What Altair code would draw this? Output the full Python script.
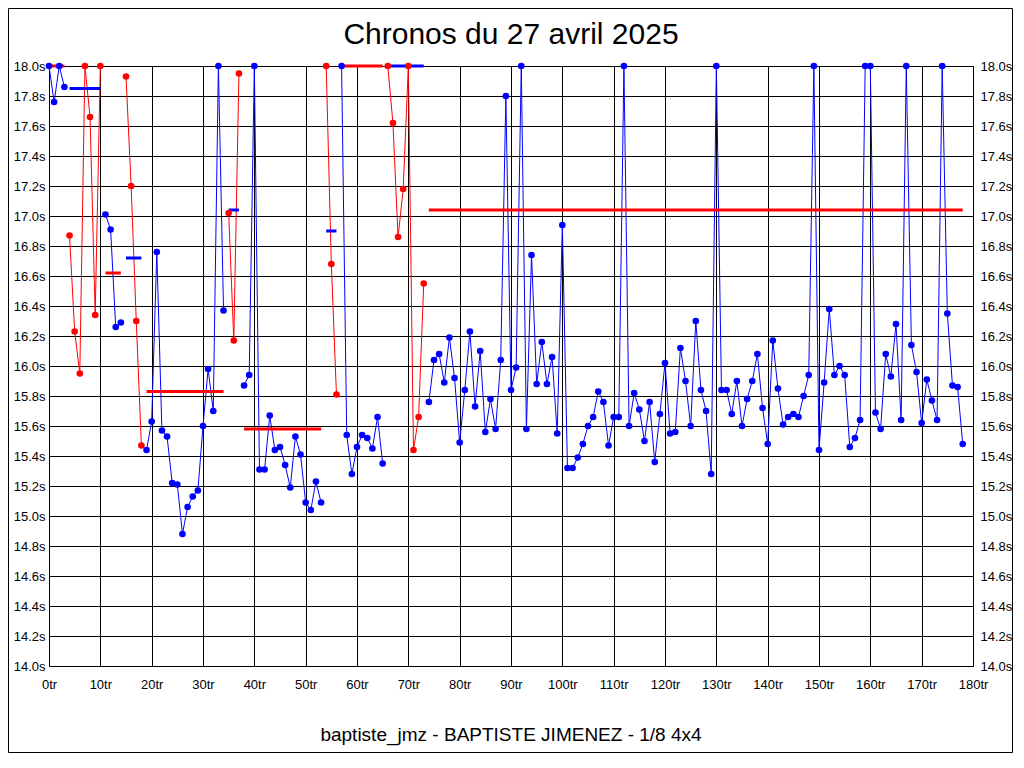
import altair as alt
import pandas as pd

# ---- data ----
laps = list(range(0, 179))
times = [
    18.0, 17.76, 18.0, 17.86, 16.87, 16.23, 15.95, 18.0, 17.66, 16.34,
    18.0, 17.01, 16.91, 16.26, 16.29, 17.93, 17.20, 16.30, 15.47, 15.44,
    15.63, 16.76, 15.57, 15.53, 15.22, 15.21, 14.88, 15.06, 15.13, 15.17,
    15.60, 15.98, 15.70, 18.0, 16.37, 17.02, 16.17, 17.95, 15.87, 15.94,
    18.0, 15.31, 15.31, 15.67, 15.44, 15.46, 15.34, 15.19, 15.53, 15.41,
    15.09, 15.04, 15.23, 15.09, 18.0, 16.68, 15.81, 18.0, 15.54, 15.28,
    15.46, 15.54, 15.52, 15.45, 15.66, 15.35, 18.0, 17.62, 16.86, 17.18,
    18.0, 15.44, 15.66, 16.55, 15.76, 16.04, 16.08, 15.89, 16.19, 15.92,
    15.49, 15.84, 16.23, 15.73, 16.10, 15.56, 15.78, 15.58, 16.04, 17.80,
    15.84, 15.99, 18.0, 15.58, 16.74, 15.88, 16.16, 15.88, 16.06, 15.55,
    16.94, 15.32, 15.32, 15.39, 15.48, 15.60, 15.66, 15.83, 15.76, 15.47,
    15.66, 15.66, 18.0, 15.60, 15.82, 15.71, 15.50, 15.76, 15.36, 15.68,
    16.02, 15.55, 15.56, 16.12, 15.90, 15.60, 16.30, 15.84, 15.70, 15.28,
    18.0, 15.84, 15.84, 15.68, 15.90, 15.60, 15.78, 15.90, 16.08, 15.72,
    15.48, 16.17, 15.85, 15.61, 15.66, 15.68, 15.66, 15.80, 15.94, 18.0,
    15.44, 15.89, 16.38, 15.94, 16.00, 15.94, 15.46, 15.52, 15.64, 18.0,
    18.0, 15.69, 15.58, 16.08, 15.93, 16.28, 15.64, 18.0, 16.14, 15.96,
    15.62, 15.91, 15.77, 15.64, 18.0, 16.35, 15.87, 15.86, 15.48,
]
# stints: first lap, last lap, colour
seg_start = [0, 4, 11, 15, 19, 35, 38, 54, 57, 66, 74]
seg_end = [3, 10, 14, 18, 34, 37, 53, 56, 65, 73, 178]
seg_color = ["bleu", "rouge", "bleu", "rouge", "bleu", "rouge", "bleu", "rouge", "bleu", "rouge", "bleu"]

# horizontal reference bars
avg_x1 = [0, 4, 11, 15, 19, 35, 38, 54, 57, 66, 74]
avg_x2 = [3, 10, 14, 18, 34, 37, 53, 56, 65, 73, 178]
avg_y = [18.0, 17.85, 16.62, 16.72, 15.83, 17.04, 15.58, 16.90, 18.0, 18.0, 17.04]
avg_color = ["rouge", "bleu", "rouge", "bleu", "rouge", "bleu", "rouge", "bleu", "rouge", "bleu", "rouge"]

x_ticks = [0, 10, 20, 30, 40, 50, 60, 70, 80, 90, 100, 110, 120, 130, 140, 150, 160, 170, 180]
y_ticks = [14.0, 14.2, 14.4, 14.6, 14.8, 15.0, 15.2, 15.4, 15.6, 15.8, 16.0,
           16.2, 16.4, 16.6, 16.8, 17.0, 17.2, 17.4, 17.6, 17.8, 18.0]

title_text = "Chronos du 27 avril 2025"
footer_text = "baptiste_jmz - BAPTISTE JIMENEZ - 1/8 4x4"

# ---- tables ----
seg_ids, cols = [], []
for t in laps:
    for i, (a, b) in enumerate(zip(seg_start, seg_end)):
        if a <= t <= b:
            seg_ids.append(i)
            cols.append(seg_color[i])
            break
df = pd.DataFrame({"tr": laps, "val": times, "seg": seg_ids, "col": cols})
adf = pd.DataFrame({"x1": avg_x1, "x2": avg_x2, "y": avg_y, "col": avg_color})

W, H = 924, 600
FONT = "Liberation Sans"

xscale = alt.Scale(domain=[0, 180], nice=False, zero=False)
yscale = alt.Scale(domain=[14, 18], nice=False, zero=False)
cscale = alt.Scale(domain=["bleu", "rouge"], range=["#0000ff", "#ff0000"])

xaxis = alt.Axis(values=x_ticks, labelExpr="datum.value + 'tr'", grid=True,
                 gridColor="black", gridOpacity=1, gridWidth=1, domain=False,
                 ticks=False, tickSize=0, labelFont=FONT, labelFontSize=13,
                 labelColor="black", labelPadding=12, title=None,
                 labelFlush=False, labelOverlap=False)
yaxis_left = alt.Axis(values=y_ticks, labelExpr="format(datum.value, '.1f') + 's'",
                      grid=True, gridColor="black", gridOpacity=1, gridWidth=1,
                      domain=False, ticks=False, tickSize=0, labelFont=FONT,
                      labelFontSize=13, labelColor="black", labelPadding=4,
                      title=None, labelFlush=False, labelOverlap=False, orient="left")
yaxis_right = alt.Axis(values=y_ticks, labelExpr="format(datum.value, '.1f') + 's'",
                       grid=False, domain=False, ticks=False, tickSize=0,
                       labelFont=FONT, labelFontSize=13, labelColor="black",
                       labelPadding=7, title=None, labelFlush=False,
                       labelOverlap=False, orient="right")

lines = alt.Chart(df).mark_line(strokeWidth=1).encode(
    x=alt.X("tr:Q", scale=xscale, axis=xaxis),
    y=alt.Y("val:Q", scale=yscale, axis=yaxis_left),
    color=alt.Color("col:N", scale=cscale, legend=None),
    detail="seg:N",
)

avgs = alt.Chart(adf).mark_rule(strokeWidth=3).encode(
    x=alt.X("x1:Q", scale=xscale),
    x2="x2:Q",
    y=alt.Y("y:Q", scale=yscale, axis=yaxis_right),
    color=alt.Color("col:N", scale=cscale, legend=None),
)

points = alt.Chart(df).mark_circle(size=44, opacity=1).encode(
    x=alt.X("tr:Q", scale=xscale),
    y=alt.Y("val:Q", scale=yscale, axis=None),
    color=alt.Color("col:N", scale=cscale, legend=None),
)

title = alt.Chart(pd.DataFrame({"t": [title_text]})).mark_text(
    font=FONT, fontSize=30, color="black", align="center", baseline="alphabetic"
).encode(text="t:N", x=alt.value(W / 2), y=alt.value(-22))

footer = alt.Chart(pd.DataFrame({"t": [footer_text]})).mark_text(
    font=FONT, fontSize=19, color="black", align="center", baseline="alphabetic"
).encode(text="t:N", x=alt.value(W / 2), y=alt.value(675))

frame = alt.Chart(pd.DataFrame({"f": [0]})).mark_rect(
    fill=None, stroke="black", strokeWidth=1
).encode(x=alt.value(-40.5), x2=alt.value(W + 40.5 - 1), y=alt.value(-57.5), y2=alt.value(H + 86.5))

chart = alt.layer(lines, avgs, points, title, footer, frame).resolve_axis(
    y="independent"
).properties(
    width=W, height=H,
    padding={"left": 41, "top": 58, "right": 41, "bottom": 88},
    autosize=alt.AutoSizeParams(type="none"),
    background="white",
).configure_view(stroke="black", strokeWidth=1)

chart.save("out.html", embed_options={"renderer": "svg", "actions": False})
